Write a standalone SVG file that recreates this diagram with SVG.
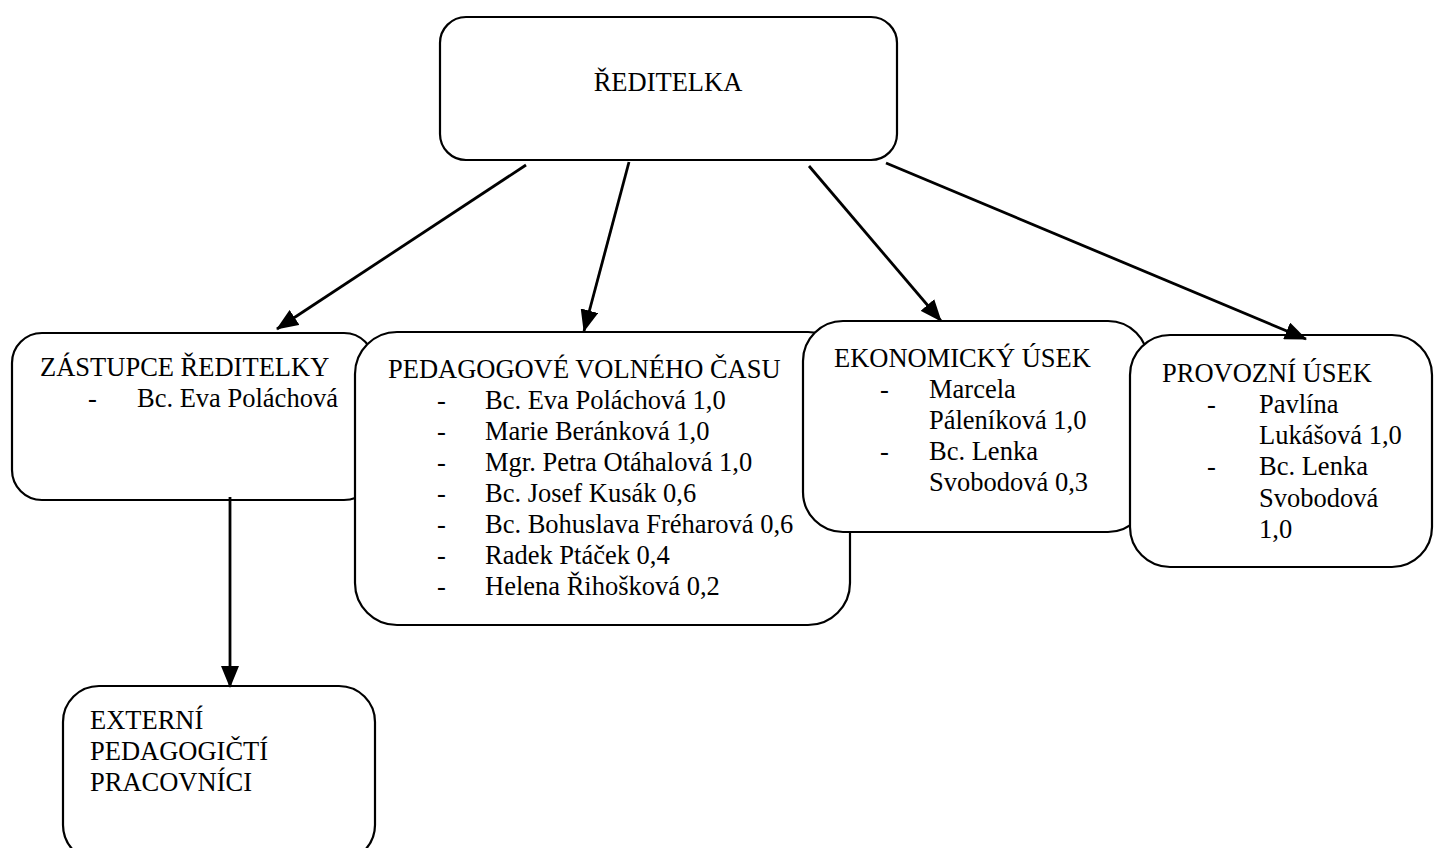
<svg xmlns="http://www.w3.org/2000/svg" width="1434" height="848" viewBox="0 0 1434 848">
<style>
.box{fill:#fff;stroke:#000;stroke-width:2.2}
.t{font-family:"Liberation Serif","Times New Roman",serif;font-size:26.5px;fill:#000}
.c{stroke:#000;stroke-width:2.8;fill:none;marker-end:url(#ah)}
</style>
<defs>
<marker id="ah" markerUnits="userSpaceOnUse" markerWidth="22" markerHeight="18" viewBox="0 0 22 18" refX="21" refY="9" orient="auto">
<path d="M0,0 L22,9 L0,18 Z" fill="#000"/>
</marker>
</defs>
<rect width="1434" height="848" fill="#fff"/>
<g id="zastupce">
<rect class="box" x="12" y="333" width="362" height="167" rx="30"/>
<text class="t" x="40" y="376">ZÁSTUPCE ŘEDITELKY</text>
<text class="t" x="88" y="407">-</text>
<text class="t" x="137" y="407">Bc. Eva Poláchová</text>
</g>
<g id="pedagogove">
<rect class="box" x="355" y="332" width="495" height="293" rx="42"/>
<text class="t" x="388" y="378">PEDAGOGOVÉ VOLNÉHO ČASU</text>
<g class="t">
<text x="437" y="409">-</text><text x="485" y="409">Bc. Eva Poláchová 1,0</text>
<text x="437" y="440">-</text><text x="485" y="440">Marie Beránková 1,0</text>
<text x="437" y="471">-</text><text x="485" y="471">Mgr. Petra Otáhalová 1,0</text>
<text x="437" y="502">-</text><text x="485" y="502">Bc. Josef Kusák 0,6</text>
<text x="437" y="533">-</text><text x="485" y="533">Bc. Bohuslava Fréharová 0,6</text>
<text x="437" y="564">-</text><text x="485" y="564">Radek Ptáček 0,4</text>
<text x="437" y="595">-</text><text x="485" y="595">Helena Řihošková 0,2</text>
</g>
</g>
<g id="ekonomicky">
<rect class="box" x="803" y="321" width="345" height="211" rx="40"/>
<text class="t" x="834" y="367">EKONOMICKÝ ÚSEK</text>
<g class="t">
<text x="880" y="398">-</text><text x="929" y="398">Marcela</text>
<text x="929" y="429">Páleníková 1,0</text>
<text x="880" y="460">-</text><text x="929" y="460">Bc. Lenka</text>
<text x="929" y="491">Svobodová 0,3</text>
</g>
</g>
<g id="provozni">
<rect class="box" x="1130" y="335" width="302" height="232" rx="40"/>
<text class="t" x="1162" y="382">PROVOZNÍ ÚSEK</text>
<g class="t">
<text x="1207" y="413">-</text><text x="1259" y="413">Pavlína</text>
<text x="1259" y="444">Lukášová 1,0</text>
<text x="1207" y="475">-</text><text x="1259" y="475">Bc. Lenka</text>
<text x="1259" y="507">Svobodová</text>
<text x="1259" y="538">1,0</text>
</g>
</g>
<g id="externi">
<rect class="box" x="63" y="686" width="312" height="175" rx="36"/>
<g class="t">
<text x="90" y="729">EXTERNÍ</text>
<text x="90" y="760">PEDAGOGIČTÍ</text>
<text x="90" y="791">PRACOVNÍCI</text>
</g>
</g>
<g id="reditelka">
<rect class="box" x="440" y="17" width="457" height="143" rx="26"/>
<text class="t" x="668" y="91" text-anchor="middle">ŘEDITELKA</text>
</g>
<g id="connectors">
<line class="c" x1="526" y1="165" x2="277" y2="329"/>
<line class="c" x1="629" y1="162" x2="584" y2="331"/>
<line class="c" x1="809" y1="166" x2="941" y2="321"/>
<line class="c" x1="886" y1="163" x2="1306" y2="339"/>
<line class="c" x1="230" y1="497" x2="230" y2="687"/>
</g>
</svg>
